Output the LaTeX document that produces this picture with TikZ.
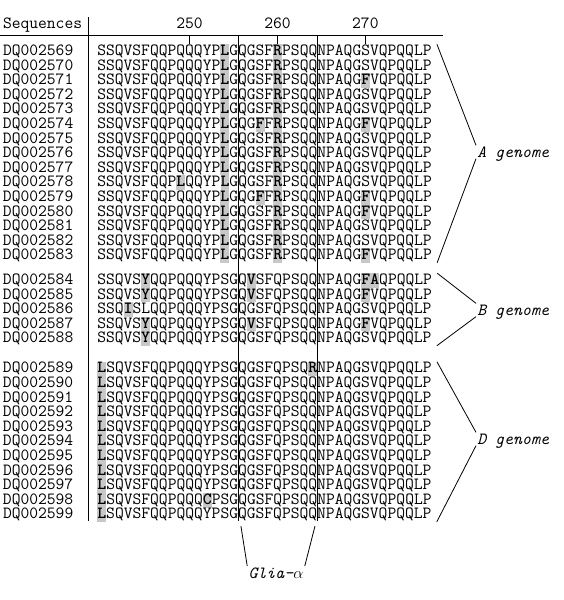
\documentclass[tikz,border=0pt]{standalone}
\usetikzlibrary{positioning}

\definecolor{hlgray}{RGB}{200,200,200}
\newcommand\seqfont{\fontsize{12.8}{13}\selectfont\ttfamily}
% grey cell behind a residue, as high as one row
\newcommand\hl[1]{\sbox0{\textbf{#1}}\rlap{\color{hlgray}\rule[-2.35pt]{\wd0}{10.95pt}}\usebox0}
\newdimen\cw

\begin{document}
\setbox0\hbox{\seqfont M}\global\cw=\wd0
\begin{tikzpicture}[x=0.75pt, y=-0.75pt, line width=0.6pt,
    node distance=0.4pt and 18pt,
    every node/.style={font=\seqfont, inner sep=0pt, outer sep=0pt},
    acc/.style={text height=8.4pt, text depth=2.15pt},
    seqrow/.style={acc},
    genome/.style={font=\seqfont\itshape, text height=8pt, text depth=0pt, inner sep=1pt}]
    \useasboundingbox (0,0) rectangle (564,600);

    % header
    \node[anchor=base west] (head) at (3,28.5) {Sequences};
    \coordinate (rule0) at (0,35);
    \coordinate (rule1) at (443,35);
    \coordinate (sep0) at (88,17);
    \coordinate (sep1) at (88,521);

    % A genome
    \node[acc, anchor=base west] (a2569) at (3,55.5) {DQ002569};
    \node[seqrow, right=of a2569] (r2569) {SSQVSFQQPQQQYP\hl{L}GQGSF\hl{R}PSQQNPAQGSVQPQQLP};
    \node[acc, below=of a2569] (a2570) {DQ002570};
    \node[seqrow, right=of a2570] (r2570) {SSQVSFQQPQQQYP\hl{L}GQGSF\hl{R}PSQQNPAQGSVQPQQLP};
    \node[acc, below=of a2570] (a2571) {DQ002571};
    \node[seqrow, right=of a2571] (r2571) {SSQVSFQQPQQQYP\hl{L}GQGSF\hl{R}PSQQNPAQG\hl{F}VQPQQLP};
    \node[acc, below=of a2571] (a2572) {DQ002572};
    \node[seqrow, right=of a2572] (r2572) {SSQVSFQQPQQQYP\hl{L}GQGSF\hl{R}PSQQNPAQGSVQPQQLP};
    \node[acc, below=of a2572] (a2573) {DQ002573};
    \node[seqrow, right=of a2573] (r2573) {SSQVSFQQPQQQYP\hl{L}GQGSF\hl{R}PSQQNPAQGSVQPQQLP};
    \node[acc, below=of a2573] (a2574) {DQ002574};
    \node[seqrow, right=of a2574] (r2574) {SSQVSFQQPQQQYP\hl{L}GQG\hl{F}F\hl{R}PSQQNPAQG\hl{F}VQPQQLP};
    \node[acc, below=of a2574] (a2575) {DQ002575};
    \node[seqrow, right=of a2575] (r2575) {SSQVSFQQPQQQYP\hl{L}GQGSF\hl{R}PSQQNPAQGSVQPQQLP};
    \node[acc, below=of a2575] (a2576) {DQ002576};
    \node[seqrow, right=of a2576] (r2576) {SSQVSFQQPQQQYP\hl{L}GQGSF\hl{R}PSQQNPAQGSVQPQQLP};
    \node[acc, below=of a2576] (a2577) {DQ002577};
    \node[seqrow, right=of a2577] (r2577) {SSQVSFQQPQQQYP\hl{L}GQGSF\hl{R}PSQQNPAQGSVQPQQLP};
    \node[acc, below=of a2577] (a2578) {DQ002578};
    \node[seqrow, right=of a2578] (r2578) {SSQVSFQQP\hl{L}QQYP\hl{L}GQGSF\hl{R}PSQQNPAQGSVQPQQLP};
    \node[acc, below=of a2578] (a2579) {DQ002579};
    \node[seqrow, right=of a2579] (r2579) {SSQVSFQQPQQQYP\hl{L}GQG\hl{F}F\hl{R}PSQQNPAQG\hl{F}VQPQQLP};
    \node[acc, below=of a2579] (a2580) {DQ002580};
    \node[seqrow, right=of a2580] (r2580) {SSQVSFQQPQQQYP\hl{L}GQGSF\hl{R}PSQQNPAQG\hl{F}VQPQQLP};
    \node[acc, below=of a2580] (a2581) {DQ002581};
    \node[seqrow, right=of a2581] (r2581) {SSQVSFQQPQQQYP\hl{L}GQGSF\hl{R}PSQQNPAQGSVQPQQLP};
    \node[acc, below=of a2581] (a2582) {DQ002582};
    \node[seqrow, right=of a2582] (r2582) {SSQVSFQQPQQQYP\hl{L}GQGSF\hl{R}PSQQNPAQGSVQPQQLP};
    \node[acc, below=of a2582] (a2583) {DQ002583};
    \node[seqrow, right=of a2583] (r2583) {SSQVSFQQPQQQYP\hl{L}GQGSF\hl{R}PSQQNPAQG\hl{F}VQPQQLP};

    % B genome
    \node[acc, below=7.9pt of a2583] (a2584) {DQ002584};
    \node[seqrow, right=of a2584] (r2584) {SSQVS\hl{Y}QQPQQQYPSGQ\hl{V}SFQPSQQNPAQG\hl{F}\hl{A}QPQQLP};
    \node[acc, below=of a2584] (a2585) {DQ002585};
    \node[seqrow, right=of a2585] (r2585) {SSQVS\hl{Y}QQPQQQYPSGQ\hl{V}SFQPSQQNPAQG\hl{F}VQPQQLP};
    \node[acc, below=of a2585] (a2586) {DQ002586};
    \node[seqrow, right=of a2586] (r2586) {SSQ\hl{I}SLQQPQQQYPSGQGSFQPSQQNPAQGSVQPQQLP};
    \node[acc, below=of a2586] (a2587) {DQ002587};
    \node[seqrow, right=of a2587] (r2587) {SSQVS\hl{Y}QQPQQQYPSGQ\hl{V}SFQPSQQNPAQG\hl{F}VQPQQLP};
    \node[acc, below=of a2587] (a2588) {DQ002588};
    \node[seqrow, right=of a2588] (r2588) {SSQVS\hl{Y}QQPQQQYPSGQGSFQPSQQNPAQGSVQPQQLP};

    % D genome
    \node[acc, below=12pt of a2588] (a2589) {DQ002589};
    \node[seqrow, right=of a2589] (r2589) {\hl{L}SQVSFQQPQQQYPSGQGSFQPSQ\hl{R}NPAQGSVQPQQLP};
    \node[acc, below=of a2589] (a2590) {DQ002590};
    \node[seqrow, right=of a2590] (r2590) {\hl{L}SQVSFQQPQQQYPSGQGSFQPSQQNPAQGSVQPQQLP};
    \node[acc, below=of a2590] (a2591) {DQ002591};
    \node[seqrow, right=of a2591] (r2591) {\hl{L}SQVSFQQPQQQYPSGQGSFQPSQQNPAQGSVQPQQLP};
    \node[acc, below=of a2591] (a2592) {DQ002592};
    \node[seqrow, right=of a2592] (r2592) {\hl{L}SQVSFQQPQQQYPSGQGSFQPSQQNPAQGSVQPQQLP};
    \node[acc, below=of a2592] (a2593) {DQ002593};
    \node[seqrow, right=of a2593] (r2593) {\hl{L}SQVSFQQPQQQYPSGQGSFQPSQQNPAQGSVQPQQLP};
    \node[acc, below=of a2593] (a2594) {DQ002594};
    \node[seqrow, right=of a2594] (r2594) {\hl{L}SQVSFQQPQQQYPSGQGSFQPSQQNPAQGSVQPQQLP};
    \node[acc, below=of a2594] (a2595) {DQ002595};
    \node[seqrow, right=of a2595] (r2595) {\hl{L}SQVSFQQPQQQYPSGQGSFQPSQQNPAQGSVQPQQLP};
    \node[acc, below=of a2595] (a2596) {DQ002596};
    \node[seqrow, right=of a2596] (r2596) {\hl{L}SQVSFQQPQQQYPSGQGSFQPSQQNPAQGSVQPQQLP};
    \node[acc, below=of a2596] (a2597) {DQ002597};
    \node[seqrow, right=of a2597] (r2597) {\hl{L}SQVSFQQPQQQYPSGQGSFQPSQQNPAQGSVQPQQLP};
    \node[acc, below=of a2597] (a2598) {DQ002598};
    \node[seqrow, right=of a2598] (r2598) {\hl{L}SQVSFQQPQQQ\hl{C}PSGQGSFQPSQQNPAQGSVQPQQLP};
    \node[acc, below=of a2598] (a2599) {DQ002599};
    \node[seqrow, right=of a2599] (r2599) {\hl{L}SQVSFQQPQQQYPSGQGSFQPSQQNPAQGSVQPQQLP};

    % frame and position ticks
    \draw (rule0) -- (rule1);
    \draw (sep0) -- (sep1);
    \coordinate (t250) at ([xshift=10.5*\cw]r2569.north west);
    \coordinate (t260) at ([xshift=20.5*\cw]r2569.north west);
    \coordinate (t270) at ([xshift=30.5*\cw]r2569.north west);
    \coordinate (t250r) at (t250 |- rule0);
    \coordinate (t260r) at (t260 |- rule0);
    \coordinate (t270r) at (t270 |- rule0);
    \draw (t250r) -- (t250);
    \draw (t260r) -- (t260);
    \draw (t270r) -- (t270);
    \node[above=4.5pt of t250r] (n250) {250};
    \node[above=4.5pt of t260r] (n260) {260};
    \node[above=4.5pt of t270r] (n270) {270};

    % genome labels
    \node[genome, anchor=west] (gA) at (476,152) {A genome};
    \node[genome, anchor=west] (gB) at (476,310) {B genome};
    \node[genome, anchor=west] (gD) at (476,439) {D genome};
    \draw ([xshift=4pt]r2569.north east) -- (gA.north west);
    \draw (gA.south west) -- ([xshift=4pt]r2583.south east);
    \draw ([xshift=4pt]r2584.north east) -- (gB.north west);
    \draw (gB.south west) -- ([xshift=4pt]r2588.south east);
    \draw ([xshift=4pt]r2589.north east) -- (gD.north west);
    \draw (gD.south west) -- ([xshift=4pt]r2599.south east);

    % Glia-alpha epitope
    \node[genome, anchor=north] (glia) at (276,566) {Glia-$\alpha$};
    \coordinate (g1) at ([xshift=16*\cw]r2569.north west);
    \coordinate (g2) at ([xshift=25*\cw]r2569.north west);
    \coordinate (g1end) at (g1 |- sep1);
    \coordinate (g2end) at (g2 |- sep1);
    \draw (g1 |- rule0) -- (g1end);
    \draw (g2 |- rule0) -- (g2end);
    \draw ([shift={(3,5)}]g1end) -- (glia.north west);
    \draw ([shift={(-2,5)}]g2end) -- (glia.north east);
\end{tikzpicture}
\end{document}
